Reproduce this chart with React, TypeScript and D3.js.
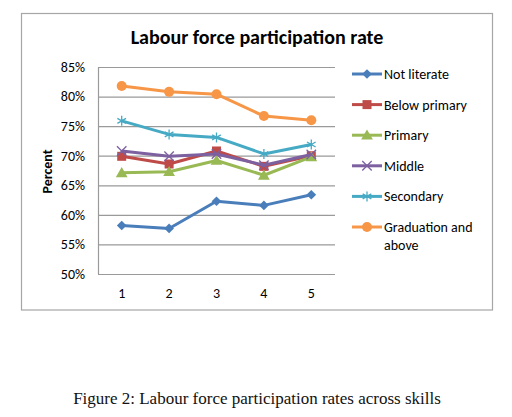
import { useEffect, useRef } from 'react';
import * as d3 from 'd3';

const categories = ['1', '2', '3', '4', '5'];
const yTicks = [0.5, 0.55, 0.6, 0.65, 0.7, 0.75, 0.8, 0.85];

const notLiterate = [58.2, 57.7, 62.3, 61.6, 63.4];
const belowPrimary = [69.9, 68.6, 70.8, 68.2, 70.0];
const primary = [67.1, 67.3, 69.2, 66.7, 69.8];
const middle = [70.8, 69.9, 70.3, 68.4, 70.2];
const secondary = [75.9, 73.6, 73.1, 70.3, 71.9];
const graduation = [81.8, 80.8, 80.4, 76.7, 76.0];

const seriesNames = ['Not literate', 'Below primary', 'Primary', 'Middle', 'Secondary', 'Graduation and above'];
const seriesValues = [notLiterate, belowPrimary, primary, middle, secondary, graduation];
const colors = ['#4A7EBB', '#BE4B48', '#98B954', '#7D60A0', '#46AAC5', '#F79646'];
const markers = ['diamond', 'square', 'triangle', 'x', 'asterisk', 'circle'];

const FONT = 'Carlito, Lato, "Open Sans", sans-serif';

function drawMarker(g: d3.Selection<SVGGElement, unknown, null, undefined>, type: string, cx: number, cy: number, color: string) {
  if (type === 'diamond') {
    g.append('path').attr('d', d3.symbol(d3.symbolDiamond2, 60)()!).attr('transform', `translate(${cx},${cy})`).attr('fill', color);
  } else if (type === 'square') {
    g.append('rect').attr('x', cx - 4.5).attr('y', cy - 4.5).attr('width', 9).attr('height', 9).attr('fill', color);
  } else if (type === 'triangle') {
    g.append('path').attr('d', d3.symbol(d3.symbolTriangle, 60)()!).attr('transform', `translate(${cx},${cy + 1})`).attr('fill', color);
  } else if (type === 'x') {
    g.append('path').attr('d', d3.symbol(d3.symbolX, 60)()!).attr('transform', `translate(${cx},${cy})`).attr('stroke', color).attr('stroke-width', 1.3).attr('fill', 'none');
  } else if (type === 'asterisk') {
    g.append('path').attr('d', d3.symbol(d3.symbolAsterisk, 70)()!).attr('transform', `translate(${cx},${cy})`).attr('stroke', color).attr('stroke-width', 1.3).attr('fill', 'none');
  } else {
    g.append('circle').attr('cx', cx).attr('cy', cy).attr('r', 5).attr('fill', color);
  }
}

export default function App() {
  const svgRef = useRef<SVGSVGElement>(null);
  const width = 512;
  const height = 417;

  useEffect(() => {
    if (!svgRef.current) return;
    const svg = d3.select(svgRef.current);
    svg.selectAll('*').remove();

    // chart frame
    svg.append('rect')
      .attr('x', 21.5).attr('y', 13.5).attr('width', 471).attr('height', 296.5)
      .attr('fill', '#fff').attr('stroke', '#a6a6a6').attr('stroke-width', 1.2);

    const plot = { left: 98, top: 67, right: 335, bottom: 274 };

    const x = d3.scaleBand().domain(categories).range([plot.left, plot.right]);
    const y = d3.scaleLinear().domain([0.5, 0.85]).range([plot.bottom, plot.top]);

    // gridlines
    svg.append('g').selectAll('line').data(yTicks).enter().append('line')
      .attr('x1', plot.left).attr('x2', plot.right)
      .attr('y1', d => y(d) + 0.5).attr('y2', d => y(d) + 0.5)
      .attr('stroke', '#9a9a9a').attr('stroke-width', 1.2);

    // axis line
    svg.append('line')
      .attr('x1', plot.left + 0.5).attr('x2', plot.left + 0.5)
      .attr('y1', plot.top).attr('y2', plot.bottom)
      .attr('stroke', '#9a9a9a').attr('stroke-width', 1.2);

    // y tick labels
    svg.append('g').selectAll('text').data(yTicks).enter().append('text')
      .attr('x', 85).attr('y', d => y(d)).attr('dy', '0.35em')
      .attr('text-anchor', 'end').attr('font-family', FONT).attr('font-size', 14)
      .attr('fill', '#000').text(d => d3.format('.0%')(d));

    // x tick labels
    svg.append('g').selectAll('text').data(categories).enter().append('text')
      .attr('x', d => x(d)! + x.bandwidth() / 2).attr('y', 298)
      .attr('text-anchor', 'middle').attr('font-family', FONT).attr('font-size', 14)
      .attr('fill', '#000').text(d => d);

    // title
    svg.append('text')
      .attr('x', 257).attr('y', 44).attr('text-anchor', 'middle')
      .attr('font-family', FONT).attr('font-size', 20).attr('font-weight', 'bold')
      .text('Labour force participation rate');

    // y axis title
    svg.append('text')
      .attr('transform', `translate(52,${(plot.top + plot.bottom) / 2 + 1}) rotate(-90)`)
      .attr('text-anchor', 'middle').attr('font-family', FONT).attr('font-size', 14).attr('font-weight', 'bold')
      .text('Percent');

    const line = d3.line<number>()
      .x((_, i) => x(categories[i])! + x.bandwidth() / 2)
      .y(d => y(d / 100));

    seriesValues.forEach((vals, si) => {
      const g = svg.append('g');
      g.append('path').datum(vals).attr('d', line)
        .attr('fill', 'none').attr('stroke', colors[si]).attr('stroke-width', 3)
        .attr('stroke-linejoin', 'round');
      vals.forEach((v, i) => {
        drawMarker(g, markers[si], x(categories[i])! + x.bandwidth() / 2, y(v / 100), colors[si]);
      });
    });

    // legend
    const legendY = d3.scalePoint().domain(seriesNames).range([74, 227]);
    seriesNames.forEach((name, si) => {
      const g = svg.append('g');
      const ly = legendY(name)!;
      g.append('line').attr('x1', 352).attr('x2', 382).attr('y1', ly).attr('y2', ly)
        .attr('stroke', colors[si]).attr('stroke-width', 3);
      drawMarker(g, markers[si], 367, ly, colors[si]);
      const t = g.append('text').attr('x', 384).attr('y', ly).attr('dy', '0.35em')
        .attr('font-family', FONT).attr('font-size', 14);
      if (name === 'Graduation and above') {
        t.append('tspan').attr('x', 384).text('Graduation and');
        t.append('tspan').attr('x', 384).attr('dy', 18).text('above');
      } else {
        t.text(name);
      }
    });

    // caption
    svg.append('text')
      .attr('x', 257).attr('y', 404).attr('text-anchor', 'middle')
      .attr('font-family', '"Liberation Serif", "DejaVu Serif", serif').attr('font-size', 17)
      .attr('fill', '#111')
      .text('Figure 2: Labour force participation rates across skills');
  }, []);

  return (
    <svg ref={svgRef} width={width} height={height}
      style={{ position: 'absolute', left: 0, top: 0, display: 'block', background: '#fff' }} />
  );
}
